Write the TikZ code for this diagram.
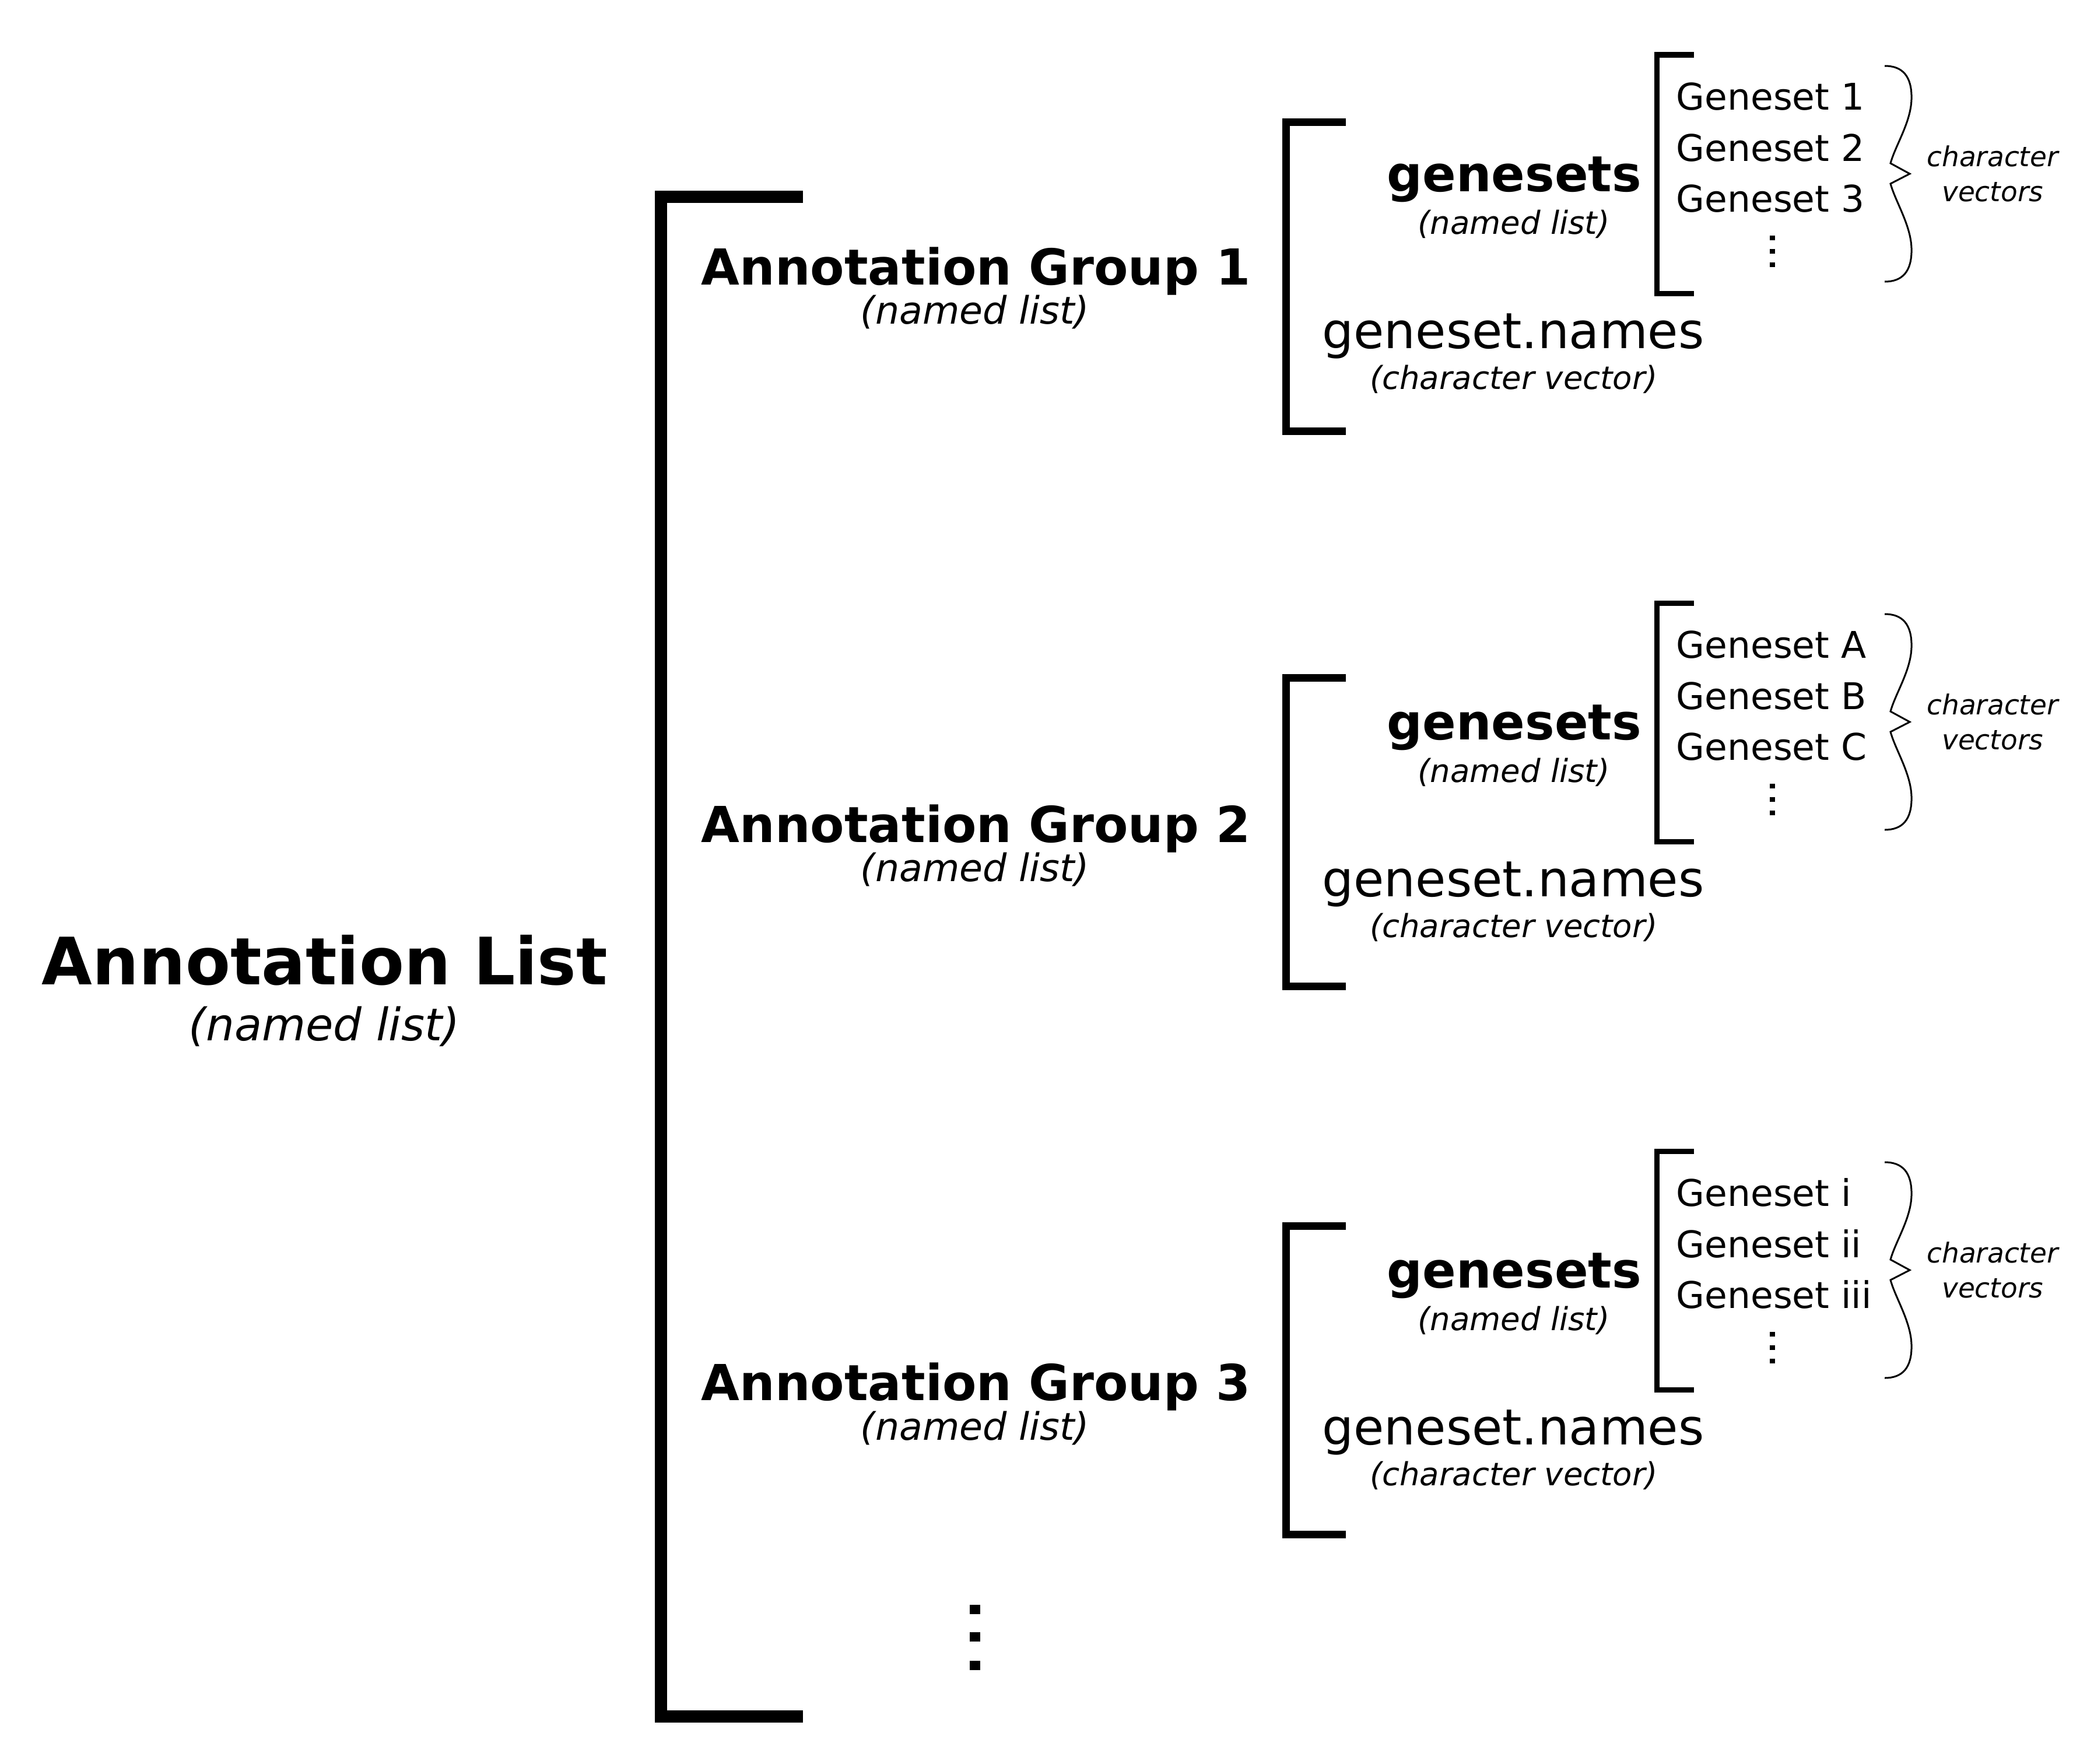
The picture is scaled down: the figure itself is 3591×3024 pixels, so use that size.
\documentclass[tikz,border=0pt]{standalone}
\usepackage{fontspec}
\setmainfont{DejaVu Sans}[BoldFont={DejaVu Sans Bold},ItalicFont={DejaVu Sans Oblique}]
\usepackage{xcolor}
\usepackage{tikz}

\tikzset{%
  listname/.style={inner sep=0pt, anchor=base, font=\fontsize{1.12cm}{1.34cm}\selectfont\bfseries},%
  listkind/.style={inner sep=0pt, anchor=base, font=\fontsize{0.77cm}{0.92cm}\selectfont\itshape},%
  groupname/.style={inner sep=0pt, anchor=base, font=\fontsize{0.85cm}{1.02cm}\selectfont\bfseries},%
  groupkind/.style={inner sep=0pt, anchor=base, font=\fontsize{0.65cm}{0.78cm}\selectfont\itshape},%
  fieldbold/.style={inner sep=0pt, anchor=base, font=\fontsize{0.85cm}{1.02cm}\selectfont\bfseries},%
  fieldplain/.style={inner sep=0pt, anchor=base, font=\fontsize{0.85cm}{1.02cm}\selectfont},%
  fieldkind/.style={inner sep=0pt, anchor=base, font=\fontsize{0.545cm}{0.66cm}\selectfont\itshape},%
  setname/.style={inner sep=0pt, anchor=base west, font=\fontsize{0.63cm}{0.76cm}\selectfont},%
  vecnote/.style={inner sep=0pt, anchor=base, font=\fontsize{0.47cm}{0.56cm}\selectfont\itshape},%
  dotsmall/.style={fill=black, inner sep=0pt, minimum width=0.09cm, minimum height=0.085cm},%
  dotbig/.style={fill=black, inner sep=0pt, minimum width=0.18cm, minimum height=0.16cm},%
  bracketbig/.style={line width=0.21cm},%
  bracketmid/.style={line width=0.13cm},%
  bracketsmall/.style={line width=0.09cm},%
  bracethin/.style={line width=0.03cm},%
}

\begin{document}
\begin{tikzpicture}[x=0.01cm, y=-0.01cm]%
\useasboundingbox (0,0) rectangle (3591,3024);%
\node[listname] (annlist) at (557,1688) {Annotation List};%
\node[listkind] (annlistkind) at (556,1784) {(named list)};%
\draw[bracketbig] (1377,337.5) -- (1133.5,337.5) -- (1133.5,2943.5) -- (1377,2943.5);%
\node[groupname] (group1) at (1674,488) {Annotation Group 1};%
\node[groupkind] (group1kind) at (1672,555) {(named list)};%
\node[groupname] (group2) at (1674,1444) {Annotation Group 2};%
\node[groupkind] (group2kind) at (1672,1511) {(named list)};%
\node[groupname] (group3) at (1674,2401) {Annotation Group 3};%
\node[groupkind] (group3kind) at (1672,2469) {(named list)};%
\node[dotbig] (more1) at (1672,2759.5) {};%
\node[dotbig] (more2) at (1672,2807) {};%
\node[dotbig] (more3) at (1672,2856) {};%
\draw[bracketmid] (2308,209.5) -- (2205.5,209.5) -- (2205.5,739) -- (2308,739);%
\draw[bracketmid] (2308,1162) -- (2205.5,1162) -- (2205.5,1691.5) -- (2308,1691.5);%
\draw[bracketmid] (2308,2102) -- (2205.5,2102) -- (2205.5,2631.5) -- (2308,2631.5);%
\node[fieldbold] (sets1) at (2597,328) {genesets};%
\node[fieldkind] (sets1kind) at (2596,401) {(named list)};%
\node[fieldplain] (names1) at (2595,597) {geneset.names};%
\node[fieldkind] (names1kind) at (2596,667) {(character vector)};%
\draw[bracketsmall] (2905,94) -- (2841,94) -- (2841,503) -- (2905,503);%
\node[setname] (set1a) at (2874,188) {Geneset 1};%
\node[setname] (set1b) at (2874,276) {Geneset 2};%
\node[setname] (set1c) at (2874,363) {Geneset 3};%
\node[dotsmall] (set1d1) at (3039,408) {};%
\node[dotsmall] (set1d2) at (3039,431) {};%
\node[dotsmall] (set1d3) at (3039,454) {};%
\draw[bracethin] (3232,113) .. controls (3262,113) and (3279,130) .. (3278,170) .. controls (3277,210) and (3250,250) .. (3242,280) -- (3275,298) -- (3242,315) .. controls (3250,345) and (3277,386) .. (3278,426) .. controls (3279,466) and (3262,483) .. (3232,483);%
\node[vecnote] (vec1a) at (3417,285) {character};%
\node[vecnote] (vec1b) at (3417,345) {vectors};%
\begin{scope}[shift={(0,940)}]%
\node[fieldbold] (sets2) at (2597,328) {genesets};%
\node[fieldkind] (sets2kind) at (2596,401) {(named list)};%
\node[fieldplain] (names2) at (2595,597) {geneset.names};%
\node[fieldkind] (names2kind) at (2596,667) {(character vector)};%
\draw[bracketsmall] (2905,94) -- (2841,94) -- (2841,503) -- (2905,503);%
\node[setname] (set2a) at (2874,188) {Geneset A};%
\node[setname] (set2b) at (2874,276) {Geneset B};%
\node[setname] (set2c) at (2874,363) {Geneset C};%
\node[dotsmall] (set2d1) at (3039,408) {};%
\node[dotsmall] (set2d2) at (3039,431) {};%
\node[dotsmall] (set2d3) at (3039,454) {};%
\draw[bracethin] (3232,113) .. controls (3262,113) and (3279,130) .. (3278,170) .. controls (3277,210) and (3250,250) .. (3242,280) -- (3275,298) -- (3242,315) .. controls (3250,345) and (3277,386) .. (3278,426) .. controls (3279,466) and (3262,483) .. (3232,483);%
\node[vecnote] (vec2a) at (3417,285) {character};%
\node[vecnote] (vec2b) at (3417,345) {vectors};%
\end{scope}%
\begin{scope}[shift={(0,1880)}]%
\node[fieldbold] (sets3) at (2597,328) {genesets};%
\node[fieldkind] (sets3kind) at (2596,401) {(named list)};%
\node[fieldplain] (names3) at (2595,597) {geneset.names};%
\node[fieldkind] (names3kind) at (2596,667) {(character vector)};%
\draw[bracketsmall] (2905,94) -- (2841,94) -- (2841,503) -- (2905,503);%
\node[setname] (set3a) at (2874,188) {Geneset i};%
\node[setname] (set3b) at (2874,276) {Geneset ii};%
\node[setname] (set3c) at (2874,363) {Geneset iii};%
\node[dotsmall] (set3d1) at (3039,408) {};%
\node[dotsmall] (set3d2) at (3039,431) {};%
\node[dotsmall] (set3d3) at (3039,454) {};%
\draw[bracethin] (3232,113) .. controls (3262,113) and (3279,130) .. (3278,170) .. controls (3277,210) and (3250,250) .. (3242,280) -- (3275,298) -- (3242,315) .. controls (3250,345) and (3277,386) .. (3278,426) .. controls (3279,466) and (3262,483) .. (3232,483);%
\node[vecnote] (vec3a) at (3417,285) {character};%
\node[vecnote] (vec3b) at (3417,345) {vectors};%
\end{scope}%
\end{tikzpicture}
\end{document}
